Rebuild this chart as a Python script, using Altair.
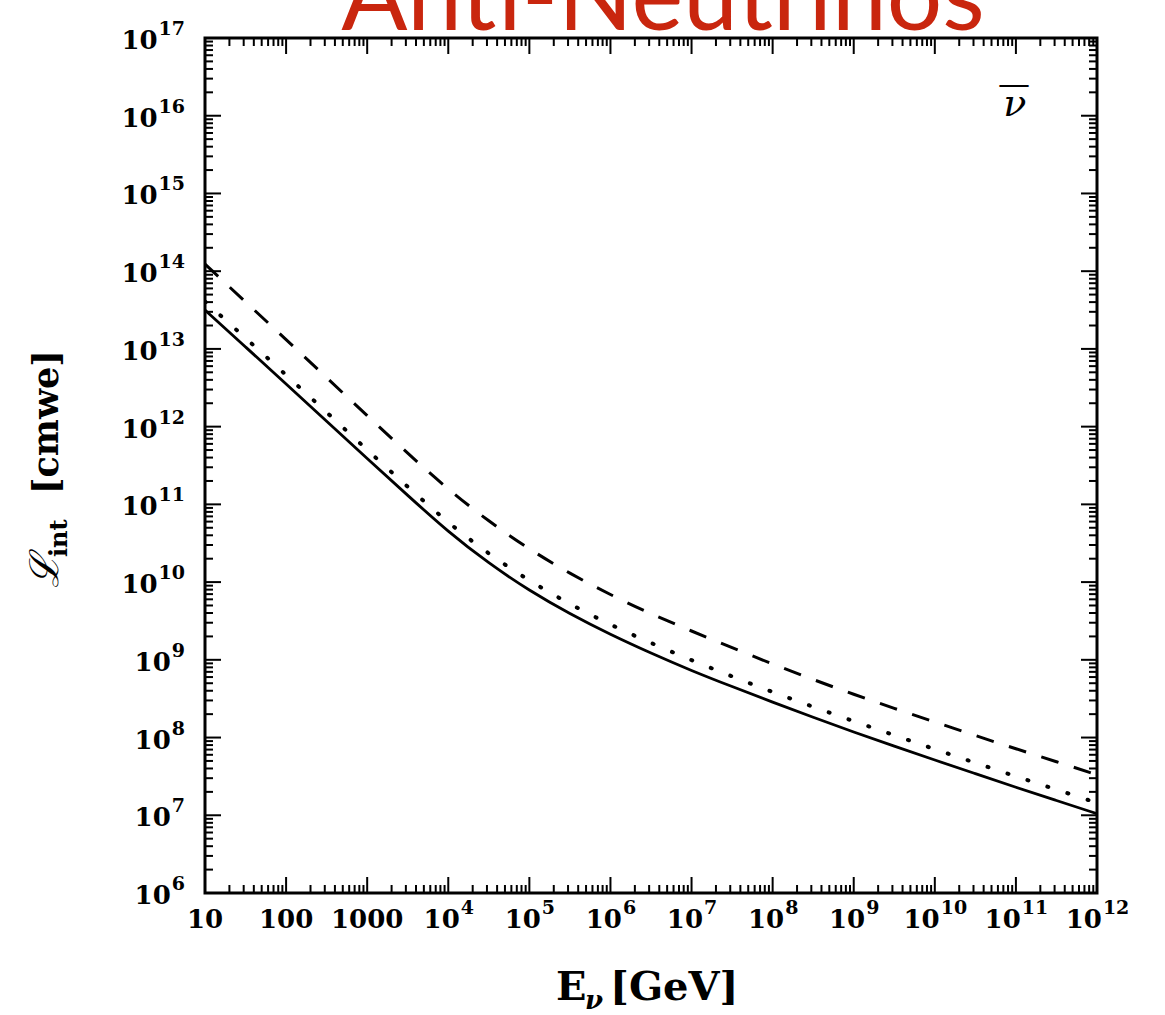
import altair as alt
import pandas as pd

# ---------------- data ----------------
# log10 of neutrino energy E_nu [GeV]
log_E = [1, 1.5, 2, 2.5, 3, 3.5, 4, 4.5, 5, 5.5, 6, 6.5, 7, 7.5, 8, 8.5,
         9, 9.5, 10, 10.5, 11, 11.5, 12]
# log10 of interaction length L_int [cmwe]
solid_log10 = [13.50, 13.025, 12.55, 12.07, 11.59, 11.115, 10.645, 10.24, 9.89,
               9.59, 9.325, 9.085, 8.86, 8.655, 8.455, 8.26, 8.07, 7.89, 7.71,
               7.535, 7.36, 7.19, 7.02]
dotted_log10 = [13.61, 13.14, 12.665, 12.185, 11.70, 11.225, 10.76, 10.36, 10.015,
                9.715, 9.45, 9.215, 8.995, 8.785, 8.585, 8.395, 8.21, 8.03, 7.85,
                7.675, 7.50, 7.33, 7.16]
dashed_log10 = [14.09, 13.605, 13.12, 12.63, 12.14, 11.655, 11.19, 10.78, 10.42,
                10.11, 9.835, 9.59, 9.37, 9.155, 8.945, 8.745, 8.555, 8.375, 8.20,
                8.025, 7.855, 7.69, 7.52]

# tick labels: base text and superscript exponent
x_tick_exps = list(range(1, 13))
x_label_base = ["10", "100", "1000", "10", "10", "10", "10", "10", "10", "10", "10", "10"]
x_label_exp = ["", "", "", "4", "5", "6", "7", "8", "9", "10", "11", "12"]
y_tick_exps = list(range(6, 18))
y_label_base = ["10"] * 12
y_label_exp = ["6", "7", "8", "9", "10", "11", "12", "13", "14", "15", "16", "17"]

title_text = "Anti-Neutrinos"
panel_label = "ν"

# ---------------- layout ----------------
W, H = 892, 855
PAD = {"left": 205, "top": 38, "right": 68, "bottom": 122}
MAJ, MIN = 16, 8
FONT = "DejaVu Serif"
BASE_FS, EXP_FS = 26, 19
BASE_W, EXP_DW = 36.2, 13.2   # approx widths of "10" and of one exponent digit

x_scale = alt.Scale(type="log", domain=[10, 1e12], nice=False)
y_scale = alt.Scale(type="log", domain=[1e6, 1e17], nice=False)
x_enc = alt.X("E:Q", scale=x_scale, axis=None)
y_enc = alt.Y("L:Q", scale=y_scale, axis=None)


def curve_df(vals):
    return pd.DataFrame({"E": [10 ** e for e in log_E],
                         "L": [10 ** v for v in vals]})


solid = alt.Chart(curve_df(solid_log10)).mark_line(
    color="black", strokeWidth=2.8, interpolate="basis", clip=True
).encode(x=x_enc, y=y_enc)

dotted = alt.Chart(curve_df(dotted_log10)).mark_line(
    color="black", strokeWidth=4, strokeDash=[1, 20], strokeCap="round",
    interpolate="basis", clip=True
).encode(x=x_enc, y=y_enc)

dashed = alt.Chart(curve_df(dashed_log10)).mark_line(
    color="black", strokeWidth=3, strokeDash=[18, 16],
    interpolate="basis", clip=True
).encode(x=x_enc, y=y_enc)

# ---------------- inward ticks on all four sides ----------------
x_major_df = pd.DataFrame({"E": [10 ** e for e in x_tick_exps]})
x_minor_df = pd.DataFrame({"E": [m * 10 ** k for k in range(1, 12) for m in range(2, 10)]})
y_major_df = pd.DataFrame({"L": [10 ** e for e in y_tick_exps]})
y_minor_df = pd.DataFrame({"L": [m * 10 ** k for k in range(6, 17) for m in range(2, 10)]})

tick_layers = []
for df, ln in ((x_major_df, MAJ), (x_minor_df, MIN)):
    tick_layers.append(alt.Chart(df).mark_rule(color="black", strokeWidth=2).encode(
        x=x_enc, y=alt.value(0), y2=alt.value(ln)))
    tick_layers.append(alt.Chart(df).mark_rule(color="black", strokeWidth=2).encode(
        x=x_enc, y=alt.value(H), y2=alt.value(H - ln)))
for df, ln in ((y_major_df, MAJ), (y_minor_df, MIN)):
    tick_layers.append(alt.Chart(df).mark_rule(color="black", strokeWidth=2).encode(
        y=y_enc, x=alt.value(0), x2=alt.value(ln)))
    tick_layers.append(alt.Chart(df).mark_rule(color="black", strokeWidth=2).encode(
        y=y_enc, x=alt.value(W), x2=alt.value(W - ln)))

# ---------------- tick labels (base + superscript) ----------------
x_lab = pd.DataFrame({"E": [10 ** e for e in x_tick_exps], "base": x_label_base,
                      "exp": x_label_exp})
x_lab["nd"] = x_lab["exp"].str.len()
y_lab = pd.DataFrame({"L": [10 ** e for e in y_tick_exps], "base": y_label_base,
                      "exp": y_label_exp})
y_lab["nd"] = y_lab["exp"].str.len()

label_layers = []
XL_Y = H + 14
for nd in (0, 1, 2):
    d = x_lab[x_lab["nd"] == nd]
    shift = nd * EXP_DW / 2
    label_layers.append(alt.Chart(d).mark_text(
        font=FONT, fontWeight="bold", fontSize=BASE_FS, align="center",
        baseline="top", color="black", dx=-shift
    ).encode(x=x_enc, y=alt.value(XL_Y), text="base:N"))
    if nd:
        label_layers.append(alt.Chart(d).mark_text(
            font=FONT, fontWeight="bold", fontSize=EXP_FS, align="left",
            baseline="top", color="black", dx=BASE_W / 2 - shift + 1, dy=-8
        ).encode(x=x_enc, y=alt.value(XL_Y), text="exp:N"))

YL_X = -20
for nd in (1, 2):
    d = y_lab[y_lab["nd"] == nd]
    label_layers.append(alt.Chart(d).mark_text(
        font=FONT, fontWeight="bold", fontSize=EXP_FS, align="right",
        baseline="middle", color="black", dy=-9
    ).encode(y=y_enc, x=alt.value(YL_X), text="exp:N"))
    label_layers.append(alt.Chart(d).mark_text(
        font=FONT, fontWeight="bold", fontSize=BASE_FS, align="right",
        baseline="middle", color="black", dx=-(nd * EXP_DW + 1), dy=3
    ).encode(y=y_enc, x=alt.value(YL_X), text="base:N"))

# ---------------- texts ----------------
def txt(s):
    return alt.Chart(pd.DataFrame({"t": [s]}))

title = txt(title_text).mark_text(
    font="Lato", fontSize=98, color="#c9260e", align="center",
    baseline="alphabetic"
).encode(text="t:N", x=alt.value(W / 2 + 12), y=alt.value(-8))

nu_df = pd.DataFrame({"E": [1e11], "L": [1e16], "t": [panel_label], "bar": ["—"]})
nubar = alt.Chart(nu_df).mark_text(
    font=FONT, fontSize=38, fontStyle="italic", align="center",
    baseline="alphabetic", color="black", dx=-1
).encode(text="t:N", x=x_enc, y=y_enc)
nubar_bar = alt.Chart(nu_df).mark_text(
    font=FONT, fontSize=32, align="center", baseline="alphabetic",
    color="black", dx=-2, dy=-22
).encode(text="bar:N", x=x_enc, y=y_enc)

# x-axis title: E_nu [GeV]
xt_x, xt_y = 556 - PAD["left"], 1000 - PAD["top"]
xt_E = txt("E").mark_text(font=FONT, fontWeight="bold", fontSize=40, align="left",
                          baseline="alphabetic", color="black").encode(
    text="t:N", x=alt.value(xt_x), y=alt.value(xt_y))
xt_nu = txt("ν").mark_text(font=FONT, fontWeight="bold", fontStyle="italic", fontSize=26,
                           align="left", baseline="alphabetic", color="black",
                           dx=29, dy=9).encode(
    text="t:N", x=alt.value(xt_x), y=alt.value(xt_y))
xt_unit = txt("[GeV]").mark_text(font=FONT, fontWeight="bold", fontSize=40, align="left",
                                 baseline="alphabetic", color="black", dx=54).encode(
    text="t:N", x=alt.value(xt_x), y=alt.value(xt_y))

# y-axis title: L_int [cmwe] (rotated)
yt_x, yt_y = 58 - PAD["left"], 588 - PAD["top"]
yt_L = txt("ℒ").mark_text(font=FONT, fontSize=40, fontStyle="italic", align="left",
                          baseline="alphabetic", color="black", angle=270).encode(
    text="t:N", x=alt.value(yt_x), y=alt.value(yt_y))
yt_int = txt("int").mark_text(font=FONT, fontWeight="bold", fontSize=24, align="left",
                              baseline="alphabetic", color="black", angle=270,
                              dx=31, dy=9).encode(
    text="t:N", x=alt.value(yt_x), y=alt.value(yt_y))
yt_unit = txt("[cmwe]").mark_text(font=FONT, fontWeight="bold", fontSize=35, align="left",
                                  baseline="alphabetic", color="black", angle=270,
                                  dx=94).encode(
    text="t:N", x=alt.value(yt_x), y=alt.value(yt_y))

chart = alt.layer(
    solid, dotted, dashed, *tick_layers, *label_layers, nubar, nubar_bar, title,
    xt_E, xt_nu, xt_unit, yt_L, yt_int, yt_unit
).properties(
    width=W, height=H,
    autosize=alt.AutoSizeParams(type="none"),
    padding=PAD,
    background="white",
).configure_view(
    stroke="black", strokeWidth=3
)

chart.save("out.html", embed_options={"renderer": "svg", "actions": False})
